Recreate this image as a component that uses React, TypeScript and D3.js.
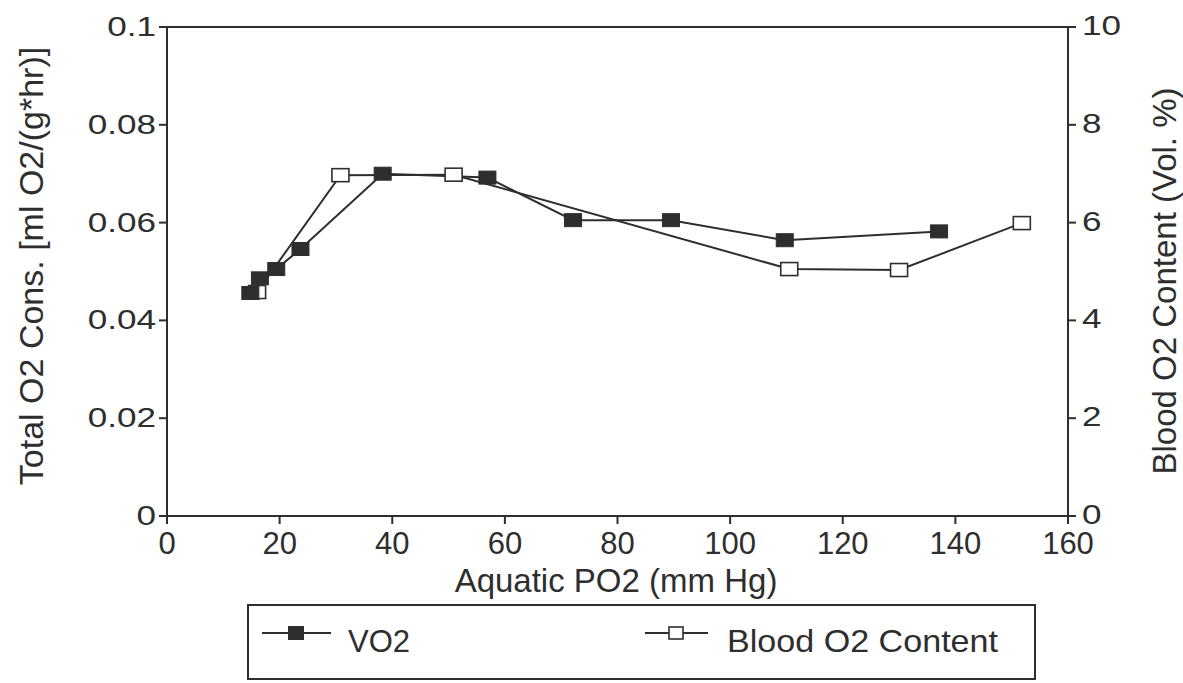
import React from "react";
import * as d3 from "d3";

// ---- data ----
const vo2X = [14.8, 16.5, 19.4, 23.7, 38.3, 56.9, 72.1, 89.5, 109.7, 137.1];
const vo2Y = [0.0456, 0.0486, 0.0505, 0.0546, 0.07, 0.0692, 0.0605, 0.0605, 0.0564, 0.0582];
const bloodX = [16.0, 30.8, 50.9, 110.5, 130.0, 151.8];
const bloodY = [4.58, 6.97, 6.98, 5.05, 5.03, 5.99];

const xTicks = [0, 20, 40, 60, 80, 100, 120, 140, 160];
const leftTicks = [0, 0.02, 0.04, 0.06, 0.08, 0.1];
const leftTickLabels = ["0", "0.02", "0.04", "0.06", "0.08", "0.1"];
const rightTicks = [0, 2, 4, 6, 8, 10];
const rightTickLabels = ["0", "2", "4", "6", "8", "10"];

const xTitle = "Aquatic PO2 (mm Hg)";
const leftTitle = "Total O2 Cons. [ml O2/(g*hr)]";
const rightTitle = "Blood O2 Content (Vol. %)";
const seriesNames = ["VO2", "Blood O2 Content"];

const W = 1183;
const H = 683;
const M = { left: 167, right: 1068, top: 27, bottom: 516 };
const INK = "#2e2e2e";
const FONT = "'Liberation Sans', Arial, Helvetica, sans-serif";

function SText(props: {
  x: number;
  y: number;
  sx?: number;
  anchor?: string;
  size: number;
  rotate?: number;
  children: React.ReactNode;
}) {
  const { x, y, sx = 1, anchor = "start", size, rotate = 0, children } = props;
  return (
    <g transform={`translate(${x},${y}) rotate(${rotate}) scale(${sx},1)`}>
      <text textAnchor={anchor as any} fontSize={size} fontFamily={FONT} fill={INK}>
        {children}
      </text>
    </g>
  );
}

export default function App() {
  const x = d3.scaleLinear().domain([0, 160]).range([M.left, M.right]);
  const yL = d3.scaleLinear().domain([0, 0.1]).range([M.bottom, M.top]);
  const yR = d3.scaleLinear().domain([0, 10]).range([M.bottom, M.top]);

  const vo2 = vo2X.map((v, i) => [v, vo2Y[i]] as [number, number]);
  const blood = bloodX.map((v, i) => [v, bloodY[i]] as [number, number]);

  const lineL = d3
    .line<[number, number]>()
    .x((d) => x(d[0]))
    .y((d) => yL(d[1]));
  const lineR = d3
    .line<[number, number]>()
    .x((d) => x(d[0]))
    .y((d) => yR(d[1]));

  const mw = 17;
  const mh = 13;
  const tick = 8;

  // legend layout
  const lg = { x0: 248, y0: 605, x1: 1035, y1: 679 };
  const lgY = 633;

  return (
    <svg width={W} height={H} style={{ position: "absolute", left: 0, top: 0, background: "#fff" }}>
      <rect x={0} y={0} width={W} height={H} fill="#fff" />

      {/* plot frame */}
      <rect
        x={M.left}
        y={M.top}
        width={M.right - M.left}
        height={M.bottom - M.top}
        fill="none"
        stroke={INK}
        strokeWidth={2}
      />

      {/* x axis ticks */}
      {xTicks.map((t) => (
        <g key={"xt" + t}>
          <line x1={x(t)} x2={x(t)} y1={M.bottom} y2={M.bottom + tick} stroke={INK} strokeWidth={2} />
          <SText x={x(t)} y={M.bottom + 38} anchor="middle" size={31}>
            {String(t)}
          </SText>
        </g>
      ))}

      {/* left axis */}
      {leftTicks.map((t, i) => (
        <g key={"lt" + t}>
          <line x1={M.left - tick} x2={M.left} y1={yL(t)} y2={yL(t)} stroke={INK} strokeWidth={2} />
          <SText x={M.left - tick - 3} y={yL(t) + 9} anchor="end" size={27} sx={1.3}>
            {leftTickLabels[i]}
          </SText>
        </g>
      ))}

      {/* right axis */}
      {rightTicks.map((t, i) => (
        <g key={"rt" + t}>
          <line x1={M.right} x2={M.right + tick} y1={yR(t)} y2={yR(t)} stroke={INK} strokeWidth={2} />
          <SText x={M.right + 14} y={yR(t) + 8} anchor="start" size={27} sx={1.3}>
            {rightTickLabels[i]}
          </SText>
        </g>
      ))}

      {/* titles */}
      <SText x={616} y={592} anchor="middle" size={33}>
        {xTitle}
      </SText>
      <SText x={43} y={266} anchor="middle" size={34} rotate={-90}>
        {leftTitle}
      </SText>
      <SText x={1176} y={281} anchor="middle" size={33} rotate={-90}>
        {rightTitle}
      </SText>

      {/* series lines */}
      <path d={lineR(blood) || ""} fill="none" stroke={INK} strokeWidth={2} />
      <path d={lineL(vo2) || ""} fill="none" stroke={INK} strokeWidth={2} />

      {/* markers */}
      {blood.map((d, i) => (
        <rect
          key={"bm" + i}
          x={x(d[0]) - mw / 2}
          y={yR(d[1]) - mh / 2}
          width={mw}
          height={mh}
          fill="#fff"
          stroke={INK}
          strokeWidth={1.6}
        />
      ))}
      {vo2.map((d, i) => (
        <rect
          key={"vm" + i}
          x={x(d[0]) - mw / 2}
          y={yL(d[1]) - mh / 2}
          width={mw}
          height={mh}
          fill={INK}
          stroke={INK}
          strokeWidth={1}
        />
      ))}

      {/* legend */}
      <rect
        x={lg.x0}
        y={lg.y0}
        width={lg.x1 - lg.x0}
        height={lg.y1 - lg.y0}
        fill="none"
        stroke={INK}
        strokeWidth={2}
      />
      <line x1={262} x2={331} y1={lgY} y2={lgY} stroke={INK} strokeWidth={2} />
      <rect x={296 - 8} y={lgY - 7} width={16} height={14} fill={INK} />
      <SText x={348} y={lgY + 19} size={31}>
        {seriesNames[0]}
      </SText>
      <line x1={645} x2={708} y1={lgY} y2={lgY} stroke={INK} strokeWidth={2} />
      <rect x={676 - 7} y={lgY - 6} width={14} height={12} fill="#fff" stroke={INK} strokeWidth={1.6} />
      <SText x={727} y={lgY + 19} size={31} sx={1.1}>
        {seriesNames[1]}
      </SText>
    </svg>
  );
}
